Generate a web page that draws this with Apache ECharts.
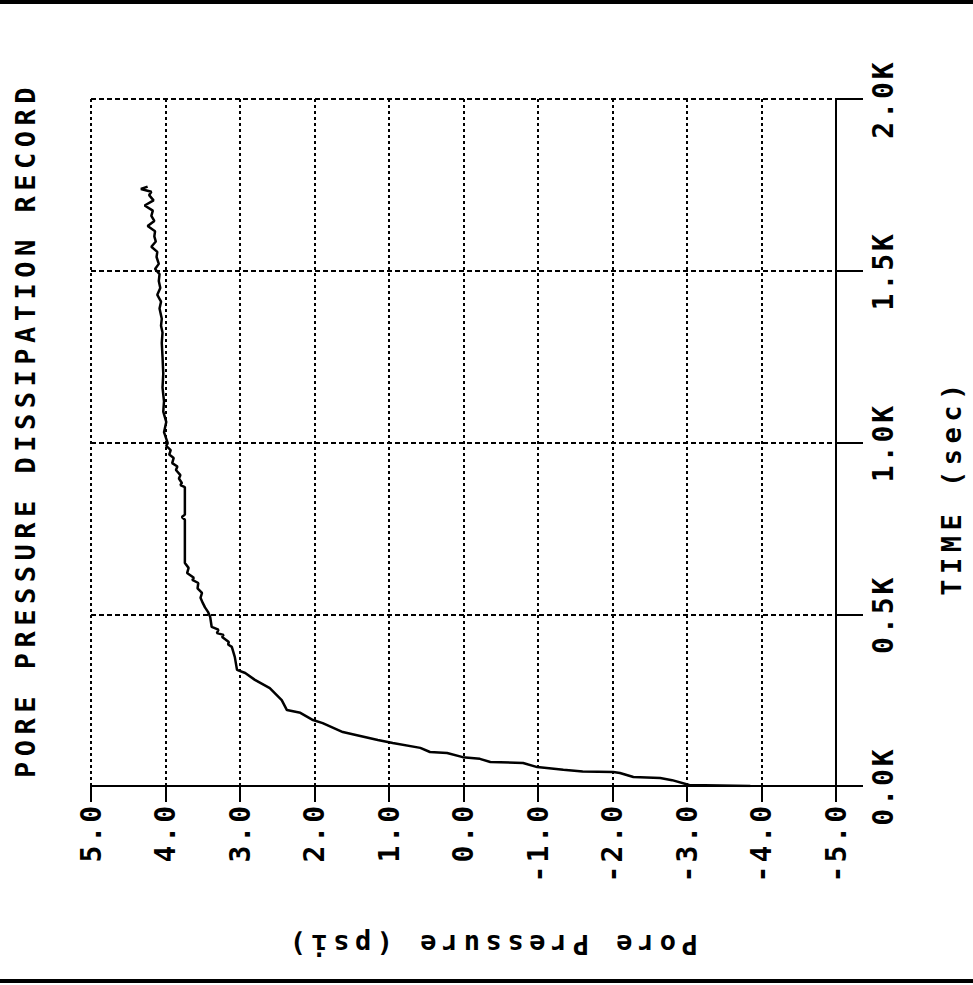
<!DOCTYPE html>
<html><head><meta charset="utf-8">
<script src="https://cdn.jsdelivr.net/npm/echarts@6/dist/echarts.min.js"></script>
<style>
html,body{margin:0;padding:0;background:#fff;}
#c{width:973px;height:985px;}
#c text[style*="28px"]{letter-spacing:3px;}
#c text[style*="27px"]{letter-spacing:5.5px;}
</style></head><body><div id="c"></div>
<script>
// Time (sec) samples
const timeSec = [0,3,17,23,26,38,41,42,47,55,67,70,79,84,96,99,111,125,134,148,157,183,192,213,221,250,285,309,329,338,376,405,412,419,434,440,445,455,463,492,507,520,533,548,562,575,591,600,606,620,635,649,700,775,783,790,870,876,882,895,905,920,930,940,955,965,978,990,998,1030,1060,1090,1120,1160,1200,1250,1290,1320,1340,1360,1390,1410,1430,1450,1470,1490,1505,1520,1540,1555,1570,1585,1600,1615,1630,1645,1660,1675,1690,1705,1720,1730,1738,1745];
// Pore pressure (psi) at each sample
const porePsi = [-3.85,-3.03,-2.80,-2.64,-2.28,-2.10,-2.01,-1.60,-1.34,-0.99,-0.80,-0.36,-0.22,0.01,0.22,0.45,0.58,0.95,1.15,1.43,1.62,1.89,2.02,2.19,2.37,2.44,2.60,2.80,2.93,3.04,3.07,3.11,3.16,3.15,3.24,3.22,3.31,3.29,3.38,3.40,3.43,3.47,3.50,3.53,3.51,3.57,3.56,3.64,3.62,3.71,3.69,3.74,3.74,3.74,3.78,3.74,3.74,3.80,3.78,3.82,3.80,3.86,3.84,3.91,3.89,3.95,3.93,3.99,3.97,4.02,3.99,4.03,4.02,4.04,4.03,4.04,4.05,4.04,4.06,4.05,4.08,4.06,4.11,4.07,4.09,4.08,4.14,4.09,4.12,4.11,4.19,4.13,4.15,4.14,4.24,4.15,4.19,4.17,4.28,4.16,4.22,4.19,4.33,4.24];
// Axis ticks and their labels
const pressureTicks = [5,4,3,2,1,0,-1,-2,-3,-4,-5];
const pressureTickLabels = ['5.0','4.0','3.0','2.0','1.0','0.0','-1.0','-2.0','-3.0','-4.0','-5.0'];
const timeTicks = [0,500,1000,1500,2000];
const timeTickLabels = ['0.0K','0.5K','1.0K','1.5K','2.0K'];
const titleText = 'PORE PRESSURE DISSIPATION RECORD';
const xName = 'Pore Pressure (psi)';
const yName = 'TIME (sec)';

const FONT = '"DejaVu Sans Mono", monospace';
const chart = echarts.init(document.getElementById('c'), null, {renderer:'svg'});
const data = timeSec.map((t,i)=>[porePsi[i], t]);
function lab(ticks, labels){ return v => { const i = ticks.findIndex(x=>Math.abs(x-v)<1e-6); return i>=0?labels[i]:''; }; }

chart.setOption({
  animation:false,
  backgroundColor:'#fff',
  grid:{left:91,right:137,top:99,bottom:199,containLabel:false},
  xAxis:{
    type:'value', min:-5, max:5, interval:1, inverse:true, position:'bottom',
    axisLine:{show:true,onZero:false,lineStyle:{color:'#000',width:2}},
    axisTick:{show:true,length:16,lineStyle:{color:'#000',width:2}},
    splitLine:{show:true,lineStyle:{color:'#000',width:2,type:[3,3]}},
    axisLabel:{rotate:90,margin:17,color:'#000',fontFamily:FONT,fontWeight:'bold',fontSize:28,formatter:lab(pressureTicks,pressureTickLabels)}
  },
  yAxis:{
    type:'value', min:0, max:2000, interval:500, position:'right',
    axisLine:{show:true,onZero:false,lineStyle:{color:'#000',width:2}},
    axisTick:{show:true,length:27,lineStyle:{color:'#000',width:2}},
    splitLine:{show:true,lineStyle:{color:'#000',width:2,type:[5,3]}},
    axisLabel:{rotate:90,margin:33,color:'#000',fontFamily:FONT,fontWeight:'bold',fontSize:28,formatter:lab(timeTicks,timeTickLabels)}
  },
  series:[{
    type:'line', data:data, showSymbol:false, symbol:'none',
    lineStyle:{color:'#000',width:2.5}
  }],
  graphic:[
    {type:'text', x:25, y:430, rotation:Math.PI/2,
      style:{text:titleText, fill:'#000', fontFamily:FONT, fontWeight:'bold', fontSize:27, align:'center', verticalAlign:'middle'}},
    {type:'text', x:491, y:944, rotation:Math.PI,
      style:{text:xName, fill:'#000', fontFamily:FONT, fontWeight:'bold', fontSize:27, align:'center', verticalAlign:'middle'}},
    {type:'text', x:951, y:487, rotation:Math.PI/2,
      style:{text:yName, fill:'#000', fontFamily:FONT, fontWeight:'bold', fontSize:27, align:'center', verticalAlign:'middle'}},
    {type:'rect', shape:{x:0,y:0,width:973,height:4}, style:{fill:'#000'}},
    {type:'rect', shape:{x:0,y:979,width:973,height:4}, style:{fill:'#000'}}
  ]
});
</script></body></html>
